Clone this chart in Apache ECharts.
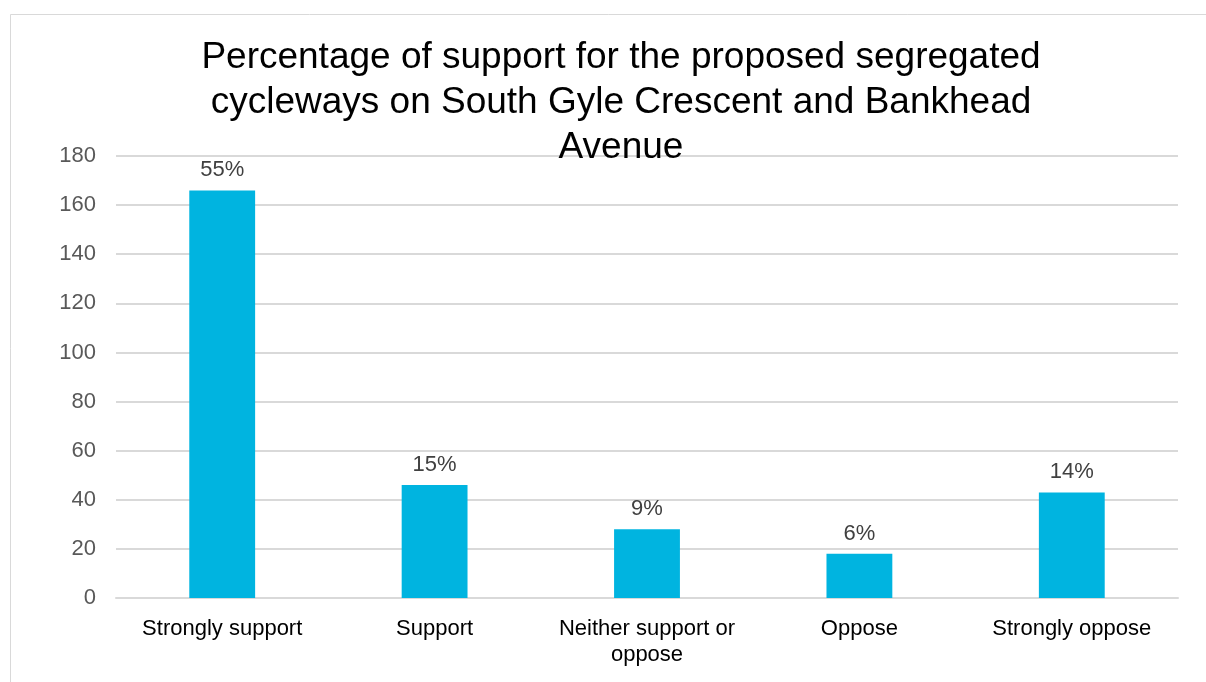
<!DOCTYPE html>
<html>
<head>
<meta charset="utf-8">
<style>html,body{margin:0;padding:0;background:#fff;}#c{width:1206px;height:682px;}</style>
<script src="https://cdn.jsdelivr.net/npm/echarts@6/dist/echarts.min.js"></script>
</head>
<body>
<div id="c"></div>
<script>
const titleText = "Percentage of support for the proposed segregated\ncycleways on South Gyle Crescent and Bankhead\nAvenue";
const categories = ["Strongly support", "Support", "Neither support or\noppose", "Oppose", "Strongly oppose"];
const counts = [166, 46, 28, 18, 43];
const percentLabels = ["55%", "15%", "9%", "6%", "14%"];
const yTicks = { min: 0, max: 180, interval: 20 };

const chart = echarts.init(document.getElementById('c'), null, { renderer: 'canvas' });
chart.setOption({
  animation: false,
  backgroundColor: '#fff',
  graphic: [{
    type: 'rect', shape: { x: 10.5, y: 14.5, width: 1220, height: 700 },
    style: { fill: 'none', stroke: '#d9d9d9', lineWidth: 1 }, z: -1, silent: true
  }],
  title: {
    text: titleText, left: 616, textAlign: 'center', top: 30,
    textStyle: { fontFamily: 'Liberation Sans, Arial', fontSize: 37, fontWeight: 'normal', color: '#000', lineHeight: 45 }
  },
  grid: { left: 116, right: 28, top: 156, bottom: 84, containLabel: false },
  xAxis: {
    type: 'category', data: categories,
    axisLine: { lineStyle: { color: '#d9d9d9', width: 2 } },
    axisTick: { show: false },
    axisLabel: { interval: 0, margin: 18, color: '#000', fontFamily: 'Liberation Sans, Arial', fontSize: 22, lineHeight: 26 }
  },
  yAxis: {
    type: 'value', min: yTicks.min, max: yTicks.max, interval: yTicks.interval,
    axisLine: { show: false }, axisTick: { show: false },
    splitLine: { lineStyle: { color: '#d9d9d9', width: 2 } },
    axisLabel: { margin: 20, color: '#595959', fontFamily: 'Liberation Sans, Arial', fontSize: 22 }
  },
  series: [{
    type: 'bar', data: counts, barWidth: '31%',
    itemStyle: { color: '#00B4E0' },
    label: {
      show: true, position: 'top', distance: 9,
      formatter: p => percentLabels[p.dataIndex],
      color: '#404040', fontFamily: 'Liberation Sans, Arial', fontSize: 22
    }
  }]
});
</script>
</body>
</html>
